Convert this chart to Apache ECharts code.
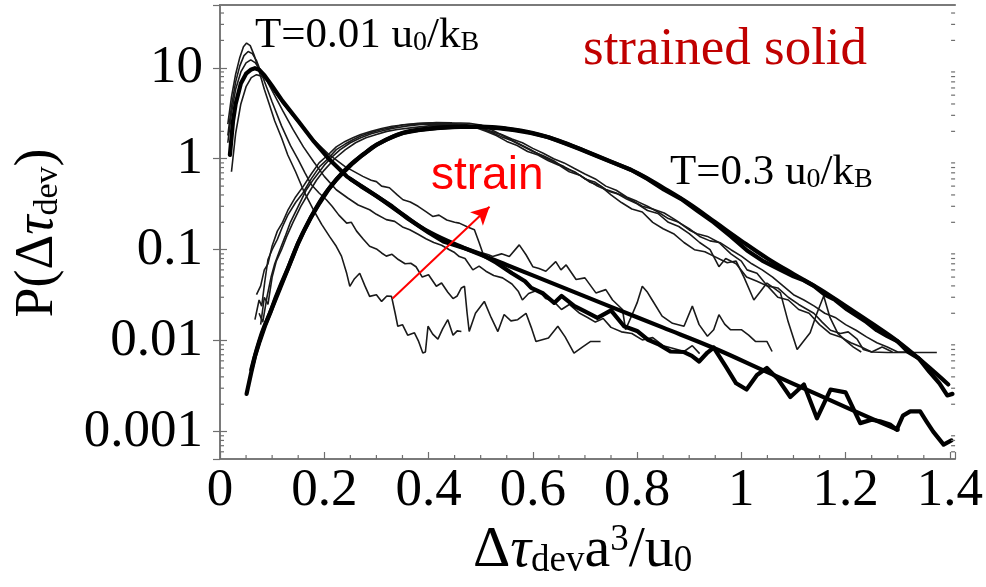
<!DOCTYPE html>
<html><head><meta charset="utf-8">
<script src="https://cdn.jsdelivr.net/npm/echarts@6/dist/echarts.min.js"></script>
<style>html,body{margin:0;padding:0;background:#fff}#c{width:986px;height:587px}</style>
</head><body><div id="c"></div>
<script>
// ---------- axis / tick data ----------
const xTickLabels = ['0','0.2','0.4','0.6','0.8','1','1.2','1.4'];
const yTickLabels = ['0.001','0.01','0.1','1','10'];
const yDecades = [0.0001,0.001,0.01,0.1,1,10];
const yMinorMult = [2,3,4,5,6,7,8,9];
const xMinorTicks = [0.05,0.1,0.15,0.25,0.3,0.35,0.45,0.5,0.55,0.65,0.7,0.75,0.85,0.9,0.95,1.05,1.1,1.15,1.25,1.3,1.35];
const xMin = 0, xMax = 1.41, yMin = 0.0005, yMax = 49;

// ---------- T = 0.01 u0/kB curves ----------
const a1 = [[0.015,2.4],[0.022,4.8],[0.03,8.5],[0.038,13],[0.045,17],[0.051,18.7],[0.058,17.5],[0.066,13.5],[0.075,9.2],[0.085,5.8],[0.095,3.9],[0.105,2.6],[0.118,1.7],[0.13,1.1],[0.145,0.72],[0.16,0.45],[0.179,0.275],[0.195,0.19],[0.21,0.14],[0.223,0.109],[0.233,0.085],[0.243,0.055],[0.249,0.0395],[0.258,0.048],[0.268,0.055],[0.278,0.04],[0.287,0.0307],[0.3,0.032],[0.31,0.027],[0.32,0.031],[0.329,0.0307],[0.336,0.02],[0.341,0.0144],[0.35,0.015],[0.36,0.0115],[0.373,0.0122],[0.381,0.0098],[0.389,0.0073],[0.394,0.0075],[0.399,0.0144],[0.408,0.0118],[0.418,0.0104],[0.427,0.0135],[0.437,0.017],[0.447,0.0115],[0.455,0.0128],[0.463,0.0126]];
const a2 = [[0.015,1.8],[0.022,3.8],[0.03,7],[0.038,10.5],[0.046,13.6],[0.054,15.1],[0.062,14.3],[0.07,12],[0.08,8.5],[0.09,6],[0.1,4.2],[0.118,2.3],[0.135,1.4],[0.15,0.98],[0.163,0.7],[0.175,0.52],[0.19,0.42],[0.204,0.354],[0.215,0.3],[0.228,0.24],[0.243,0.196],[0.252,0.2],[0.262,0.16],[0.275,0.13],[0.287,0.109],[0.3,0.102],[0.31,0.092],[0.319,0.085],[0.33,0.089],[0.342,0.078],[0.355,0.07],[0.366,0.071],[0.376,0.065],[0.388,0.05],[0.4,0.053],[0.415,0.0396],[0.425,0.043],[0.437,0.034],[0.447,0.029],[0.455,0.031],[0.463,0.038],[0.469,0.0396],[0.474,0.02],[0.478,0.0126],[0.49,0.02],[0.507,0.027],[0.52,0.018],[0.533,0.0126],[0.545,0.0194],[0.558,0.0165],[0.571,0.017],[0.587,0.02],[0.597,0.014],[0.606,0.0098],[0.63,0.0107],[0.648,0.0144],[0.662,0.011],[0.679,0.0073],[0.695,0.0085],[0.711,0.0098],[0.73,0.0098]];
const a3 = [[0.015,1.5],[0.022,3.2],[0.03,5.8],[0.04,9],[0.05,11.3],[0.059,12.2],[0.068,11.3],[0.078,9.3],[0.09,7.2],[0.1,5.6],[0.12,3.4],[0.14,2.1],[0.16,1.35],[0.18,0.92],[0.2,0.64],[0.223,0.456],[0.245,0.37],[0.265,0.31],[0.287,0.275],[0.3,0.245],[0.319,0.214],[0.335,0.205],[0.35,0.178],[0.364,0.166],[0.38,0.148],[0.395,0.132],[0.41,0.12],[0.425,0.112],[0.44,0.1],[0.45,0.093],[0.459,0.084],[0.47,0.08],[0.485,0.06],[0.497,0.066],[0.51,0.058],[0.525,0.052],[0.542,0.049],[0.56,0.042],[0.572,0.035],[0.58,0.028],[0.592,0.033],[0.61,0.036],[0.625,0.029],[0.64,0.027],[0.655,0.022],[0.67,0.025],[0.69,0.02],[0.705,0.018],[0.72,0.016],[0.735,0.0175],[0.75,0.014],[0.77,0.0125],[0.79,0.012],[0.81,0.0102],[0.83,0.0108],[0.85,0.0088],[0.87,0.0082],[0.89,0.0076],[0.906,0.0088],[0.92,0.0072]];
const a4 = [[0.022,0.72],[0.03,1.9],[0.04,4.0],[0.05,6.2],[0.06,7.8],[0.07,8.4],[0.08,8.1],[0.09,7.2],[0.1,6.0],[0.12,4.1],[0.15,2.5],[0.18,1.6],[0.21,1.1],[0.24,0.82],[0.274,0.64],[0.29,0.58],[0.3,0.56],[0.31,0.5],[0.325,0.48],[0.34,0.4],[0.351,0.354],[0.365,0.335],[0.38,0.3],[0.395,0.262],[0.408,0.232],[0.42,0.24],[0.435,0.212],[0.45,0.2],[0.459,0.196],[0.475,0.178],[0.488,0.166],[0.497,0.12],[0.504,0.092],[0.515,0.088],[0.523,0.084],[0.54,0.09],[0.555,0.084],[0.574,0.113],[0.587,0.088],[0.6,0.065],[0.612,0.062],[0.625,0.058],[0.644,0.074],[0.654,0.06],[0.664,0.068],[0.683,0.047],[0.7,0.049],[0.721,0.0335],[0.74,0.0364],[0.753,0.028],[0.772,0.022],[0.778,0.0132],[0.79,0.019],[0.8,0.026],[0.81,0.0396],[0.82,0.034],[0.829,0.028],[0.848,0.0186],[0.868,0.0155],[0.89,0.0144],[0.906,0.024],[0.919,0.015],[0.935,0.0112],[0.947,0.0132],[0.957,0.0193],[0.968,0.0152],[0.979,0.0132],[1.0,0.0132],[1.014,0.0115],[1.027,0.0098],[1.049,0.0098],[1.059,0.0076]];
const aThick = [[0.019,1.1],[0.025,2.6],[0.03,4.0],[0.04,6.7],[0.05,8.6],[0.06,9.6],[0.067,9.9],[0.075,9.5],[0.085,8.3],[0.1,6.3],[0.12,4.3],[0.15,2.6],[0.18,1.55],[0.21,0.98],[0.243,0.64],[0.27,0.5],[0.3,0.39],[0.33,0.3],[0.36,0.22],[0.4,0.155],[0.43,0.122],[0.469,0.104],[0.5,0.09],[0.53,0.072],[0.56,0.055],[0.585,0.045],[0.597,0.038],[0.62,0.033],[0.641,0.026],[0.655,0.031],[0.68,0.024],[0.7,0.021],[0.724,0.0178],[0.75,0.0215],[0.775,0.0144],[0.8,0.0128],[0.82,0.0103],[0.84,0.0092],[0.864,0.0076],[0.89,0.0075],[0.905,0.0068],[0.919,0.0059],[0.935,0.0074],[0.947,0.0084],[0.97,0.0052],[0.99,0.0034],[1.01,0.0029],[1.03,0.0042],[1.049,0.005],[1.07,0.0038],[1.094,0.0024],[1.12,0.0033],[1.145,0.0014],[1.171,0.0029],[1.2,0.0027],[1.228,0.00124],[1.25,0.00135],[1.266,0.0013],[1.285,0.0012],[1.298,0.00105],[1.31,0.0015],[1.324,0.00167],[1.343,0.00167],[1.355,0.0013],[1.368,0.001],[1.388,0.00072],[1.403,0.0008]];
const aFit = [[0.25,0.6],[0.3,0.39],[0.35,0.245],[0.4,0.158],[0.469,0.104],[0.55,0.068],[0.65,0.04],[0.75,0.0235],[0.85,0.0139],[0.947,0.0083],[1.05,0.0045],[1.15,0.0025],[1.25,0.00139],[1.3,0.00105]];

// ---------- T = 0.3 u0/kB curves ----------
const bThick = [[0.051,0.0026],[0.06,0.0045],[0.067,0.0067],[0.076,0.0098],[0.086,0.0144],[0.096,0.02],[0.107,0.03],[0.118,0.043],[0.128,0.058],[0.14,0.085],[0.15,0.119],[0.159,0.153],[0.175,0.23],[0.191,0.326],[0.207,0.45],[0.223,0.588],[0.24,0.74],[0.255,0.897],[0.27,1.06],[0.287,1.256],[0.3,1.42],[0.319,1.62],[0.335,1.78],[0.351,1.92],[0.38,2.06],[0.415,2.17],[0.445,2.23],[0.478,2.26],[0.5,2.24],[0.533,2.17],[0.565,2.06],[0.596,1.92],[0.63,1.72],[0.66,1.49],[0.69,1.28],[0.724,1.06],[0.755,0.9],[0.788,0.757],[0.82,0.6],[0.852,0.456],[0.885,0.36],[0.915,0.27],[0.947,0.2],[0.98,0.14],[1.011,0.098],[1.04,0.076],[1.075,0.06],[1.1,0.051],[1.12,0.046],[1.139,0.04],[1.16,0.032],[1.18,0.028],[1.203,0.022],[1.22,0.019],[1.24,0.016],[1.26,0.013],[1.28,0.0112],[1.3,0.0098],[1.32,0.0075],[1.34,0.0064],[1.36,0.0046],[1.38,0.0034],[1.395,0.0025],[1.405,0.0026]];
const bFit = [[0.06,0.0048],[0.08,0.012],[0.1,0.023],[0.125,0.052],[0.15,0.118],[0.175,0.23],[0.2,0.4],[0.225,0.61],[0.25,0.86],[0.275,1.12],[0.3,1.42],[0.35,1.92],[0.4,2.14],[0.45,2.24],[0.5,2.26],[0.55,2.15],[0.6,1.92],[0.65,1.58],[0.7,1.22],[0.75,0.93],[0.8,0.7],[0.85,0.48],[0.9,0.32],[0.95,0.2],[1.0,0.125],[1.05,0.08],[1.1,0.054],[1.15,0.037],[1.2,0.024],[1.25,0.0155],[1.3,0.0098],[1.35,0.0057],[1.397,0.0033]];
const b1 = [[0.067,0.017],[0.075,0.028],[0.08,0.024],[0.086,0.045],[0.092,0.078],[0.1,0.1],[0.11,0.13],[0.12,0.18],[0.13,0.24],[0.145,0.33],[0.159,0.42],[0.175,0.6],[0.191,0.82],[0.207,1.0],[0.223,1.26],[0.24,1.45],[0.255,1.62],[0.27,1.78],[0.287,1.92],[0.31,2.1],[0.33,2.2],[0.351,2.36],[0.38,2.42],[0.415,2.5],[0.445,2.48],[0.478,2.46],[0.5,2.35],[0.52,2.1],[0.533,1.92],[0.56,1.6],[0.58,1.4],[0.596,1.26],[0.62,1.05],[0.64,0.92],[0.66,0.82],[0.69,0.66],[0.724,0.5],[0.75,0.43],[0.77,0.4],[0.788,0.354],[0.81,0.3],[0.83,0.28],[0.852,0.253],[0.875,0.21],[0.9,0.165],[0.915,0.15],[0.935,0.14],[0.957,0.12],[0.98,0.09],[1.0,0.075],[1.011,0.06],[1.03,0.055],[1.05,0.04],[1.07,0.038],[1.09,0.03],[1.11,0.025],[1.139,0.02],[1.155,0.016],[1.171,0.013],[1.19,0.012],[1.205,0.0125],[1.222,0.0104],[1.234,0.008],[1.25,0.0075],[1.28,0.0074],[1.375,0.0074]];
const b2 = [[0.07,0.032],[0.078,0.04],[0.085,0.06],[0.092,0.07],[0.1,0.11],[0.11,0.16],[0.12,0.2],[0.13,0.27],[0.145,0.38],[0.16,0.5],[0.175,0.68],[0.19,0.9],[0.207,1.1],[0.223,1.35],[0.24,1.55],[0.255,1.7],[0.27,1.85],[0.29,2.0],[0.31,2.15],[0.33,2.28],[0.35,2.35],[0.38,2.45],[0.41,2.48],[0.44,2.45],[0.47,2.38],[0.5,2.2],[0.52,2.0],[0.54,1.85],[0.56,1.65],[0.58,1.5],[0.6,1.3],[0.62,1.15],[0.64,1.0],[0.66,0.9],[0.68,0.78],[0.7,0.68],[0.72,0.6],[0.74,0.5],[0.76,0.45],[0.78,0.38],[0.8,0.34],[0.82,0.3],[0.84,0.26],[0.86,0.22],[0.88,0.2],[0.9,0.17],[0.92,0.14],[0.94,0.125],[0.96,0.119],[0.98,0.1],[1.0,0.085],[1.02,0.07],[1.04,0.06],[1.06,0.05],[1.08,0.04],[1.1,0.032],[1.12,0.028],[1.14,0.024],[1.16,0.02],[1.18,0.018],[1.2,0.015],[1.22,0.013],[1.24,0.011],[1.26,0.0095],[1.28,0.0085],[1.3,0.0075],[1.32,0.0075]];
const b3 = [[0.075,0.02],[0.082,0.016],[0.09,0.03],[0.098,0.05],[0.105,0.07],[0.115,0.1],[0.125,0.14],[0.135,0.2],[0.15,0.3],[0.165,0.45],[0.18,0.6],[0.2,0.85],[0.215,1.05],[0.23,1.25],[0.25,1.5],[0.27,1.7],[0.29,1.88],[0.31,2.02],[0.33,2.15],[0.36,2.3],[0.39,2.4],[0.42,2.42],[0.45,2.38],[0.48,2.3],[0.5,2.15],[0.52,1.95],[0.54,1.75],[0.56,1.58],[0.58,1.38],[0.6,1.2],[0.62,1.08],[0.64,0.95],[0.66,0.8],[0.68,0.72],[0.7,0.6],[0.72,0.55],[0.74,0.46],[0.76,0.42],[0.78,0.36],[0.8,0.32],[0.82,0.27],[0.84,0.25],[0.86,0.2],[0.88,0.18],[0.9,0.15],[0.92,0.12],[0.94,0.1],[0.957,0.065],[0.97,0.08],[0.99,0.07],[1.01,0.05],[1.03,0.045],[1.05,0.04],[1.07,0.03],[1.09,0.028],[1.11,0.022],[1.13,0.02],[1.15,0.015],[1.17,0.012],[1.19,0.011],[1.21,0.0095],[1.23,0.0085],[1.25,0.0075],[1.27,0.0085],[1.29,0.0075]];
const b4 = [[0.078,0.015],[0.085,0.03],[0.092,0.025],[0.1,0.05],[0.108,0.075],[0.118,0.1],[0.128,0.14],[0.14,0.2],[0.155,0.3],[0.17,0.42],[0.185,0.58],[0.2,0.75],[0.22,1.0],[0.24,1.25],[0.26,1.5],[0.28,1.7],[0.3,1.85],[0.32,2.0],[0.34,2.1],[0.37,2.2],[0.4,2.3],[0.43,2.3],[0.46,2.25],[0.49,2.2],[0.51,2.0],[0.53,1.8],[0.55,1.55],[0.57,1.4],[0.59,1.2],[0.61,1.1],[0.63,0.95],[0.65,0.85],[0.67,0.72],[0.69,0.66],[0.71,0.55],[0.73,0.5],[0.75,0.4],[0.77,0.33],[0.79,0.28],[0.81,0.26],[0.83,0.2],[0.85,0.17],[0.87,0.15],[0.89,0.12],[0.91,0.1],[0.93,0.095],[0.947,0.085],[0.96,0.078],[0.973,0.072],[0.99,0.075],[1.005,0.05],[1.024,0.028],[1.037,0.035],[1.049,0.043],[1.062,0.038],[1.075,0.0335],[1.09,0.016],[1.107,0.008],[1.12,0.01],[1.132,0.0122],[1.145,0.02],[1.158,0.031],[1.17,0.018],[1.185,0.012],[1.2,0.01],[1.215,0.0085],[1.23,0.0075]];

// ---------- strain arrow ----------
const arrowStart = [0.331, 0.029];
const arrowEnd = [0.517, 0.297];

// ---------- build ----------
const serif = "'Liberation Serif','Times New Roman',serif";
const thin = [a1, a2, a3, a4, b1, b2, b3, b4];
const thick = [aThick, aFit, bThick, bFit];
const smoothSet = new Set([aFit, bFit]);

const series = [];
thin.forEach(d => series.push({type:'line', data:d, showSymbol:false, silent:true,
  lineStyle:{color:'#1a1a1a', width:1.6}, z:2}));
thick.forEach(d => series.push({type:'line', data:d, showSymbol:false, silent:true,
  smooth: smoothSet.has(d) ? 0.4 : false,
  lineStyle:{color:'#000', width:4.2, cap:'round', join:'round'}, z:3}));

// arrow
series.push({type:'line', data:[], silent:true,
  markLine:{silent:true, symbol:['none','arrow'], symbolSize:[14,18],
    lineStyle:{color:'#ff0000', width:2, type:'solid'}, label:{show:false},
    data:[[{coord:arrowStart},{coord:arrowEnd}]]}, z:4});

// minor ticks (log y on both sides, x on bottom)
const minorData = [];
yDecades.forEach(d => yMinorMult.forEach(m => { const v = d*m; if (v > yMin && v < yMax) minorData.push([0.5, v, 0]); }));
xMinorTicks.forEach(v => minorData.push([v, 1, 1]));
series.push({type:'custom', data:minorData, silent:true, clip:false, z:5,
  encode:{x:0, y:1},
  renderItem(params, api){
    const cs = params.coordSys;
    const st = {stroke:'#6e6e6e', lineWidth:1.2};
    if (api.value(2) === 0) {
      const p = api.coord([0.5, api.value(1)]);
      return {type:'group', children:[
        {type:'line', shape:{x1:cs.x, y1:p[1], x2:cs.x+4, y2:p[1]}, style:st},
        {type:'line', shape:{x1:cs.x+cs.width, y1:p[1], x2:cs.x+cs.width-4, y2:p[1]}, style:st}
      ]};
    }
    const p = api.coord([api.value(0), 1]);
    return {type:'line', shape:{x1:p[0], y1:cs.y+cs.height, x2:p[0], y2:cs.y+cs.height-4}, style:st};
  }});

const frameLine = {show:true, lineStyle:{color:'#7a7a7a', width:2}};
const isMultiple = (v, step) => Math.abs(v/step - Math.round(v/step)) < 1e-6;

const option = {
  animation:false,
  grid:{left:220, right:30, top:5, bottom:128, containLabel:false},
  xAxis:[{
    type:'value', min:xMin, max:xMax, interval:0.2, position:'bottom',
    axisLine:frameLine,
    axisTick:{show:true, inside:true, length:7, lineStyle:{color:'#6e6e6e', width:1.2}},
    splitLine:{show:false},
    axisLabel:{margin:6, color:'#000', fontFamily:serif, fontSize:53,
      formatter:v => isMultiple(v,0.2) && v <= 1.4+1e-9 ? xTickLabels[Math.round(v/0.2)] : ''}
  },{
    type:'value', min:xMin, max:xMax, position:'top',
    axisLine:frameLine, axisTick:{show:false}, axisLabel:{show:false}, splitLine:{show:false}
  }],
  yAxis:[{
    type:'log', logBase:10, min:yMin, max:yMax, position:'left',
    axisLine:frameLine,
    axisTick:{show:true, inside:true, length:7, lineStyle:{color:'#6e6e6e', width:1.2}},
    splitLine:{show:false}, minorTick:{show:false},
    axisLabel:{margin:17, color:'#000', fontFamily:serif, fontSize:53, padding:[0,0,8,0],
      showMinLabel:false, showMaxLabel:false,
      formatter:v => { const l = Math.log10(v); const k = Math.round(l);
        return (Math.abs(l-k) < 1e-6 && k >= -3 && k <= 1) ? yTickLabels[k+3] : ''; }}
  },{
    type:'log', logBase:10, min:yMin, max:yMax, position:'right',
    axisLine:frameLine,
    axisTick:{show:true, inside:true, length:7, lineStyle:{color:'#6e6e6e', width:1.2}},
    axisLabel:{show:false}, splitLine:{show:false}, minorTick:{show:false}
  }],
  series:series,
  graphic:[
    {type:'text', x:255, y:50 - 14.5, silent:true, style:{
      text:'T=0.01 u{s|0}/k{s|B}', fontFamily:serif, fontSize:43, lineHeight:43, fill:'#000',
      align:'left', verticalAlign:'middle',
      rich:{s:{fontFamily:serif, fontSize:28, lineHeight:12, verticalAlign:'bottom', fill:'#000'}}}},
    {type:'text', x:670, y:187 - 14.5, silent:true, style:{
      text:'T=0.3 u{s|0}/k{s|B}', fontFamily:serif, fontSize:43, lineHeight:43, fill:'#000',
      align:'left', verticalAlign:'middle',
      rich:{s:{fontFamily:serif, fontSize:28, lineHeight:12, verticalAlign:'bottom', fill:'#000'}}}},
    {type:'text', x:583, y:68 - 18, silent:true, style:{
      text:'strained solid', fontFamily:serif, fontSize:53, fill:'#c00000', align:'left', verticalAlign:'middle'}},
    {type:'text', x:431, y:192 - 16, silent:true, style:{
      text:'strain', fontFamily:"'Liberation Sans',Arial,sans-serif", fontSize:46, fill:'#ff0000', align:'left', verticalAlign:'middle'}},
    {type:'text', x:38, y:233, rotation:Math.PI/2, silent:true, style:{
      text:'P(Δ{t|τ}{s|dev})', fontFamily:serif, fontSize:54, lineHeight:54, fill:'#000',
      align:'center', verticalAlign:'middle',
      rich:{t:{fontFamily:serif, fontStyle:'italic', fontSize:54, lineHeight:54, fill:'#000'},
            s:{fontFamily:serif, fontSize:34, lineHeight:14, verticalAlign:'bottom', fill:'#000'}}}},
    {type:'text', x:473, y:570 - 19.5, silent:true, style:{
      text:'Δ{t|τ}{s|dev}a{p|3}/u{s|0}', fontFamily:serif, fontSize:58, lineHeight:58, fill:'#000',
      align:'left', verticalAlign:'middle',
      rich:{t:{fontFamily:serif, fontStyle:'italic', fontSize:58, lineHeight:58, fill:'#000'},
            s:{fontFamily:serif, fontSize:37, lineHeight:14, verticalAlign:'bottom', fill:'#000'},
            p:{fontFamily:serif, fontSize:37, lineHeight:22, verticalAlign:'top', fill:'#000'}}}}
  ]
};
const chart = echarts.init(document.getElementById('c'), null, {renderer:'canvas'});
chart.setOption(option);
</script></body></html>
